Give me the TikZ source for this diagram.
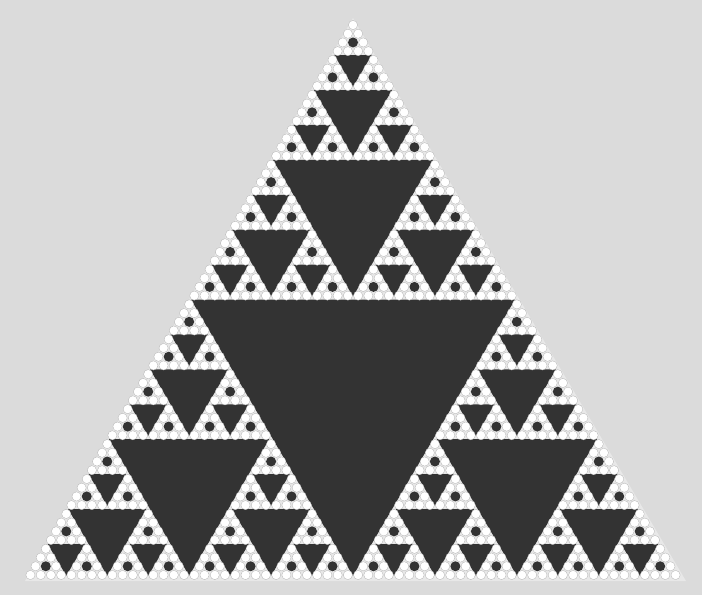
\documentclass[tikz,border=0pt]{standalone}
\definecolor{bgc}{HTML}{DBDBDB}
\definecolor{innerc}{HTML}{E8E8E8}
\definecolor{darkc}{HTML}{333333}
\definecolor{ringc}{HTML}{B0B0B0}
\newif\ifdarkpass
\newcommand\pp[2]{({353+((#2)-(#1)/2)*10.24},{25+(#1)*8.73})}
\newcommand\sierpblock[3]{%
  \ifnum#3=2
    \ifdarkpass\else
      \filldraw[oddc] \pp{#1}{#2} circle[radius=4.6];
      \filldraw[oddc] \pp{\the\numexpr#1+1\relax}{#2} circle[radius=4.6];
      \filldraw[oddc] \pp{\the\numexpr#1+1\relax}{\the\numexpr#2+1\relax} circle[radius=4.6];
    \fi
  \else
    \edef\hh{\the\numexpr#3/2\relax}%
    \ifdarkpass
      \ifnum#3=4
        \fill[darkc] \pp{\the\numexpr#1+2\relax}{\the\numexpr#2+1\relax} circle[radius=5];
      \else
        \filldraw[evenc] \pp{\the\numexpr#1+\hh\relax}{\the\numexpr#2+1\relax}
          -- \pp{\the\numexpr#1+\hh\relax}{\the\numexpr#2+\hh-1\relax}
          -- \pp{\the\numexpr#1+#3-2\relax}{\the\numexpr#2+\hh-1\relax} -- cycle;
      \fi
    \fi
    \edef\next{\noexpand\sierpblock{#1}{#2}{\hh}%
      \noexpand\sierpblock{\the\numexpr#1+\hh\relax}{#2}{\hh}%
      \noexpand\sierpblock{\the\numexpr#1+\hh\relax}{\the\numexpr#2+\hh\relax}{\hh}}%
    \next
  \fi}
\begin{document}
\begin{tikzpicture}[x=1pt,y=-1pt,
  oddc/.style={fill=white,draw=ringc,line width=0.3pt},
  evenc/.style={fill=darkc,draw=darkc,line width=9.6pt,line join=miter}]
\fill[bgc] (0,0) rectangle (702,595);
\useasboundingbox (0,0) rectangle (702,595);
\fill[innerc] (353,18) -- (25,581) -- (686,581) -- cycle;
\darkpasstrue
\sierpblock{0}{0}{64}
\darkpassfalse
\sierpblock{0}{0}{64}
\end{tikzpicture}
\end{document}
